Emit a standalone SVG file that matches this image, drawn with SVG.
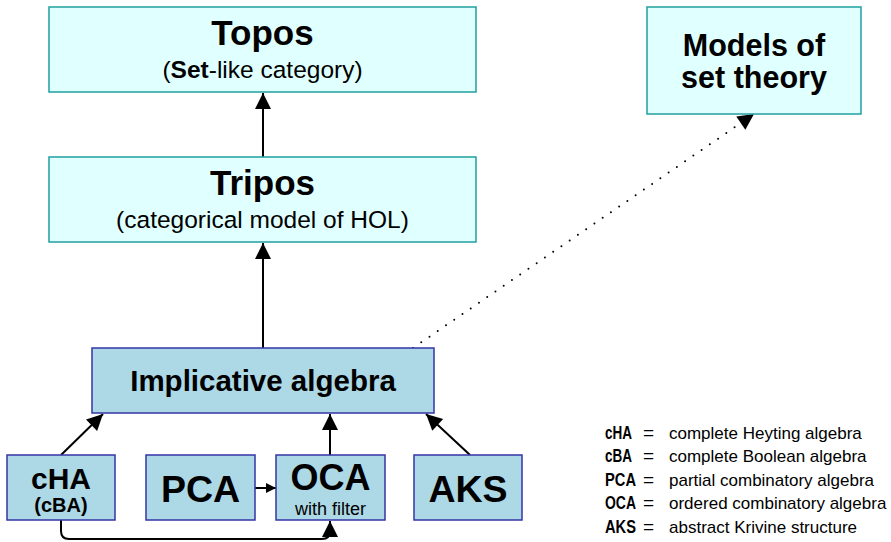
<svg xmlns="http://www.w3.org/2000/svg" width="891" height="542" viewBox="0 0 891 542">
<style>
text{font-family:"Liberation Sans",Arial,sans-serif;fill:#000;text-anchor:middle}
.b{font-weight:bold}
.top{fill:#e0ffff;stroke:#20a0a0;stroke-width:1.5}
.bot{fill:#add8e6;stroke:#3535a5;stroke-width:1.5}
.c{fill:none;stroke:#000;stroke-width:2}
.leg{font-size:17px;text-anchor:start}
.lb{font-size:17.5px;font-weight:bold;text-anchor:start}
.eq{font-size:19px;text-anchor:start}
</style>
<defs>
<marker id="ah" viewBox="0 0 10 10" refX="10" refY="5" markerWidth="10" markerHeight="10" markerUnits="userSpaceOnUse" orient="auto"><path d="M0,0 L10,5 L0,10 z" fill="#000"/></marker>
<marker id="ahb" viewBox="0 0 10 10" refX="10" refY="5" markerWidth="18" markerHeight="16" markerUnits="userSpaceOnUse" orient="auto"><path d="M0,0 L10,5 L0,10 z" fill="#000"/></marker>
</defs>
<g id="connectors">
<line class="c" x1="263" y1="157" x2="263" y2="93" marker-end="url(#ahb)"/>
<line class="c" x1="263" y1="348" x2="263" y2="243" marker-end="url(#ahb)"/>
<line class="c" x1="413" y1="348" x2="754" y2="114" stroke-width="3.2" stroke-dasharray="0 10" stroke-linecap="round" marker-end="url(#ahb)"/>
<line class="c" x1="61" y1="455" x2="103" y2="414" marker-end="url(#ahb)"/>
<line class="c" x1="330" y1="455" x2="330" y2="414" marker-end="url(#ahb)"/>
<line class="c" x1="470" y1="455" x2="426" y2="414" marker-end="url(#ahb)"/>
<line class="c" x1="255" y1="488" x2="276" y2="488" marker-end="url(#ah)"/>
<path class="c" d="M61,520 V531 Q61,539 69,539 H322 Q330,539 330,531 V521" marker-end="url(#ahb)"/>
</g>
<g id="topos">
<rect class="top" x="49" y="7" width="427" height="85"/>
<text class="b" x="262.5" y="45" font-size="35">Topos</text>
<text x="262.5" y="78" font-size="24.5">(<tspan class="b">Set</tspan>-like category)</text>
</g>
<g id="tripos">
<rect class="top" x="49" y="157" width="427" height="85"/>
<text class="b" x="262.5" y="195" font-size="35">Tripos</text>
<text x="262.5" y="228" font-size="24.5">(categorical model of HOL)</text>
</g>
<g id="models">
<rect class="top" x="647" y="7" width="214" height="107"/>
<text class="b" x="754" y="56" font-size="30.5">Models of</text>
<text class="b" x="754" y="88" font-size="30.5">set theory</text>
</g>
<g id="implicative">
<rect class="bot" x="92" y="348" width="342" height="65"/>
<text class="b" x="263" y="391" font-size="29.5">Implicative algebra</text>
</g>
<g id="cha">
<rect class="bot" x="7" y="455" width="108" height="65"/>
<text class="b" x="61" y="489" font-size="30">cHA</text>
<text class="b" x="61" y="512" font-size="20">(cBA)</text>
</g>
<g id="pca">
<rect class="bot" x="146" y="455" width="109" height="65"/>
<text class="b" x="200.5" y="502" font-size="37.5">PCA</text>
</g>
<g id="oca">
<rect class="bot" x="276" y="455" width="109" height="65"/>
<text class="b" x="330.5" y="490" font-size="36">OCA</text>
<text x="330.5" y="515" font-size="18">with filter</text>
</g>
<g id="aks">
<rect class="bot" x="414" y="455" width="108" height="65"/>
<text class="b" x="468" y="502" font-size="37.5">AKS</text>
</g>
<g id="legend">
<text class="lb" x="605" y="439" textLength="27" lengthAdjust="spacingAndGlyphs">cHA</text>
<text class="eq" x="643" y="439">=</text>
<text class="leg" x="669" y="439">complete Heyting algebra</text>
<text class="lb" x="605" y="462" textLength="27" lengthAdjust="spacingAndGlyphs">cBA</text>
<text class="eq" x="643" y="462">=</text>
<text class="leg" x="669" y="462">complete Boolean algebra</text>
<text class="lb" x="605" y="486" textLength="31" lengthAdjust="spacingAndGlyphs">PCA</text>
<text class="eq" x="643" y="486">=</text>
<text class="leg" x="669" y="486">partial combinatory algebra</text>
<text class="lb" x="605" y="509" textLength="31" lengthAdjust="spacingAndGlyphs">OCA</text>
<text class="eq" x="643" y="509">=</text>
<text class="leg" x="669" y="509">ordered combinatory algebra</text>
<text class="lb" x="605" y="533" textLength="31" lengthAdjust="spacingAndGlyphs">AKS</text>
<text class="eq" x="643" y="533">=</text>
<text class="leg" x="669" y="533">abstract Krivine structure</text>
</g>
</svg>
